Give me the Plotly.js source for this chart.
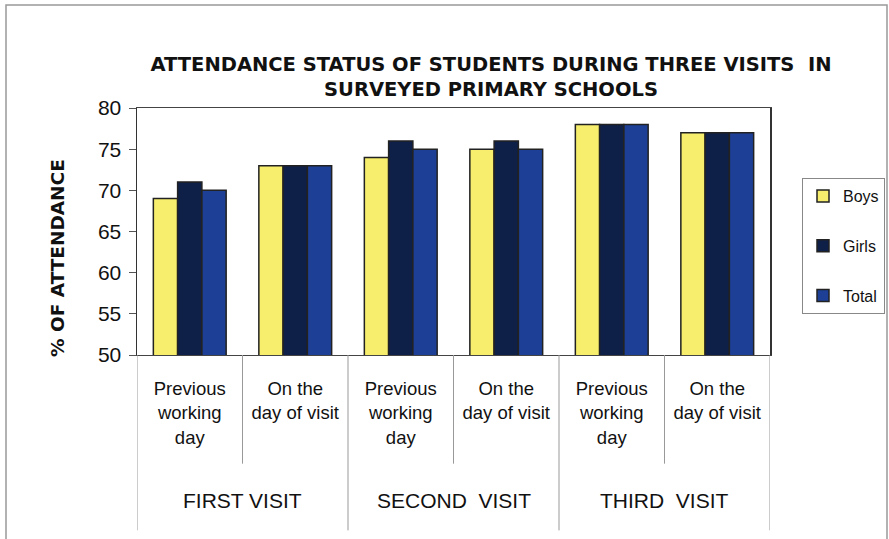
<!DOCTYPE html>
<html>
<head>
<meta charset="utf-8">
<script src="https://cdn.plot.ly/plotly-3.0.1.min.js"></script>
<style>html,body{margin:0;padding:0;background:#fff;}#chart{width:889px;height:539px;}</style>
</head>
<body>
<div id="chart"></div>
<script>
// ---- data ----
var innerLabels = ["Previous<br>working<br>day", "On the<br>day of visit", "Previous<br>working<br>day", "On the<br>day of visit", "Previous<br>working<br>day", "On the<br>day of visit"];
var outerLabels = ["FIRST VISIT", "SECOND  VISIT", "THIRD  VISIT"];
var seriesNames = ["Boys", "Girls", "Total"];
var boys  = [69, 73, 74, 75, 78, 77];
var girls = [71, 73, 76, 76, 78, 77];
var total = [70, 73, 75, 75, 78, 77];
var yTicks = [50, 55, 60, 65, 70, 75, 80];

var xIdx = innerLabels.map(function(_, i){ return i; });
var colors = ["#f6ee6c", "#0e1f48", "#1d4096"];
var vals = [boys, girls, total];

var traces = seriesNames.map(function(name, k){
  return {
    type: "bar", name: name, x: xIdx, y: vals[k],
    marker: {color: colors[k], line: {color: "#222", width: 1.5}},
    legendgroup: name, hoverinfo: "y+name"
  };
});

var F = "Liberation Sans, Arial, sans-serif";
var FB = "DejaVu Sans, Liberation Sans, sans-serif";
var shapes = [];
// category separators
for (var i = 0; i <= innerLabels.length; i++) {
  var isOuter = (i % 2 === 0);
  shapes.push({type: "line", xref: "x", yref: "paper", x0: i - 0.5, x1: i - 0.5,
    y0: 0, y1: isOuter ? -0.71 : -0.44, line: {color: "#999", width: 1}});
}
// outer frame of the chart
shapes.push({type: "rect", xref: "paper", yref: "paper",
  x0: -131/633, x1: 750/633, y0: -190/247, y1: 350/247,
  line: {color: "#999", width: 1.5}});

var annotations = outerLabels.map(function(t, g){
  return {xref: "x", yref: "paper", x: 2*g + 0.5, y: -0.59, text: t, showarrow: false,
    font: {family: F, size: 21, color: "#111"}, xanchor: "center", yanchor: "middle"};
});
// y-axis title
annotations.push({xref: "paper", yref: "paper", x: (57 - 137)/633, y: (355 - 258)/247,
  text: "<b>% OF ATTENDANCE</b>", textangle: -90, showarrow: false,
  font: {family: FB, size: 18.5, color: "#111"}, xanchor: "center", yanchor: "middle"});

var layout = {
  width: 889, height: 539,
  margin: {l: 137, r: 119, t: 108, b: 184},
  paper_bgcolor: "#fff", plot_bgcolor: "#fff",
  title: {text: "<b>ATTENDANCE STATUS OF STUDENTS DURING THREE VISITS  IN<br>SURVEYED PRIMARY SCHOOLS</b>",
    font: {family: FB, size: 19.5, color: "#111"}, x: 491/889, xanchor: "center", y: 1 - 71/539, yanchor: "middle"},
  barmode: "group", bargap: 0.31, bargroupgap: 0,
  xaxis: {
    type: "linear", range: [-0.5, 5.5], tickmode: "array", tickvals: xIdx, ticktext: innerLabels,
    showgrid: false, zeroline: false, showline: true, linecolor: "#444", linewidth: 1.2, mirror: true,
    ticks: "", tickfont: {family: F, size: 18.5, color: "#111"}, ticklabelstandoff: 17, fixedrange: true
  },
  yaxis: {
    range: [50, 80], tickmode: "array", tickvals: yTicks, ticks: "outside", ticklen: 7, tickcolor: "#555",
    showgrid: false, zeroline: false, showline: true, linecolor: "#333", linewidth: 1.5, mirror: true,
    tickfont: {family: F, size: 21, color: "#111"}, ticklabelstandoff: 3,
    fixedrange: true
  },
  legend: {
    xref: "container", yref: "container",
    x: 802/889, xanchor: "left", y: 1 - 178/539, yanchor: "top",
    bordercolor: "#888", borderwidth: 1, bgcolor: "#fff",
    font: {family: F, size: 16, color: "#111"}, tracegroupgap: 26,
    traceorder: "grouped", itemwidth: 30
  },
  shapes: shapes, annotations: annotations, showlegend: true
};

Plotly.newPlot("chart", traces, layout, {displayModeBar: false, staticPlot: true});
</script>
</body>
</html>
